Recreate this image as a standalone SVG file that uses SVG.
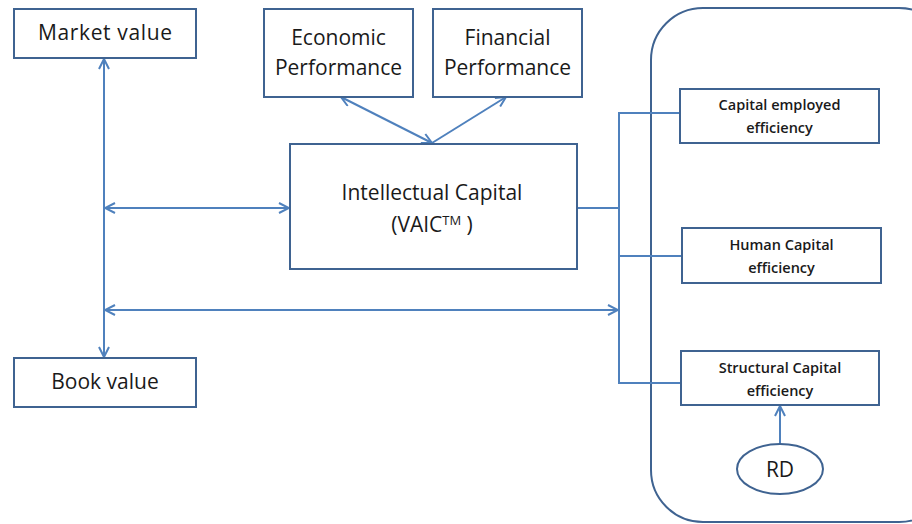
<svg xmlns="http://www.w3.org/2000/svg" width="912" height="524" viewBox="0 0 912 524">
  <defs>
    <marker id="arr" viewBox="0 0 12 12" refX="11" refY="6" markerWidth="12" markerHeight="12" markerUnits="userSpaceOnUse" orient="auto-start-reverse">
      <path d="M1,1 L11,6 L1,11" fill="none" stroke="#4f81bd" stroke-width="2"/>
    </marker>
    <style>
      .box { fill: #ffffff; stroke: #3f6391; stroke-width: 2; }
      .frame { fill: none; stroke: #3f6391; stroke-width: 2; }
      .con { fill: none; stroke: #4f81bd; stroke-width: 2; }
      .lbl { font-family: "Open Sans", "Liberation Sans", sans-serif; font-size: 21px; fill: #1a1a1a; text-anchor: middle; }
      .sm { font-family: "Open Sans", "Liberation Sans", sans-serif; font-size: 14.5px; font-weight: 600; fill: #1a1a1a; text-anchor: middle; }
    </style>
  </defs>

  <rect width="912" height="524" fill="#ffffff"/>

  <!-- outer rounded panel holding the efficiency components -->
  <rect class="frame" x="651" y="8" width="300" height="514" rx="52" ry="52"/>

  <!-- connectors -->
  <g id="connectors">
    <line class="con" x1="104" y1="310" x2="104" y2="59" marker-end="url(#arr)"/>
    <line class="con" x1="104" y1="300" x2="104" y2="357" marker-end="url(#arr)"/>
    <line class="con" x1="105" y1="208" x2="289" y2="208" marker-start="url(#arr)" marker-end="url(#arr)"/>
    <line class="con" x1="105" y1="310" x2="618" y2="310" marker-start="url(#arr)" marker-end="url(#arr)"/>
    <line class="con" x1="432" y1="143" x2="341" y2="97" marker-start="url(#arr)" marker-end="url(#arr)"/>
    <line class="con" x1="432" y1="143" x2="506" y2="97" marker-end="url(#arr)"/>
    <polyline class="con" points="577,208 619,208"/>
    <polyline class="con" points="680,113 619,113 619,383 680,383"/>
    <line class="con" x1="619" y1="256" x2="681" y2="256"/>
    <line class="con" x1="780" y1="444" x2="780" y2="406" marker-end="url(#arr)"/>
  </g>

  <g id="market-value">
    <rect class="box" x="14" y="9" width="182" height="49"/>
    <text class="lbl" x="105" y="40" textLength="134" lengthAdjust="spacing">Market value</text>
  </g>

  <g id="book-value">
    <rect class="box" x="14" y="358" width="182" height="49"/>
    <text class="lbl" x="105" y="389">Book value</text>
  </g>

  <g id="economic-performance">
    <rect class="box" x="264" y="9" width="149" height="88"/>
    <text class="lbl" x="338.5" y="45">Economic</text>
    <text class="lbl" x="338.5" y="75">Performance</text>
  </g>

  <g id="financial-performance">
    <rect class="box" x="433" y="9" width="149" height="88"/>
    <text class="lbl" x="507.5" y="45">Financial</text>
    <text class="lbl" x="507.5" y="75">Performance</text>
  </g>

  <g id="intellectual-capital">
    <rect class="box" x="290" y="144" width="287" height="125"/>
    <text class="lbl" x="432" y="200" font-size="21.5">Intellectual Capital</text>
    <text class="lbl" x="432" y="232" font-size="21.5">(VAIC<tspan font-size="13" dy="-7">TM</tspan><tspan dy="7"> )</tspan></text>
  </g>

  <g id="capital-employed">
    <rect class="box" x="680" y="89" width="199" height="54"/>
    <text class="sm" x="779.5" y="110">Capital employed</text>
    <text class="sm" x="779.5" y="133">efficiency</text>
  </g>

  <g id="human-capital">
    <rect class="box" x="682" y="228" width="199" height="55"/>
    <text class="sm" x="781.5" y="250">Human Capital</text>
    <text class="sm" x="781.5" y="273">efficiency</text>
  </g>

  <g id="structural-capital">
    <rect class="box" x="681" y="351" width="198" height="54"/>
    <text class="sm" x="780" y="373">Structural Capital</text>
    <text class="sm" x="780" y="396">efficiency</text>
  </g>

  <g id="rd">
    <ellipse class="box" cx="780" cy="469" rx="43" ry="25"/>
    <text class="lbl" x="780" y="477">RD</text>
  </g>
</svg>
